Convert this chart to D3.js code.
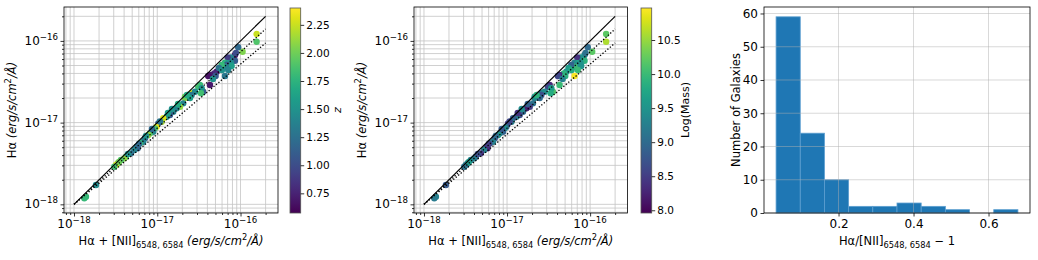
<!DOCTYPE html>
<html>
<head>
<meta charset="utf-8">
<script src="https://cdn.jsdelivr.net/npm/d3@7"></script>
<style>
  body { margin: 0; background: #fff; }
  text { font-family: "DejaVu Sans", sans-serif; fill: #000; }
</style>
</head>
<body>
<div id="viz-container"></div>
<script>
let vizWidth = 1038;
let vizHeight = 260;

// data (log10 of fluxes, erg/s/cm2/A)
let logTotal = [-15.807, -15.807, -15.975, -16.028, -16.067, -16.115, -16.155, -16.088, -16.187, -16.148,
  -16.067, -16.115, -16.167, -16.107, -16.187, -16.227, -16.187, -16.148, -16.287, -16.316,
  -16.367, -16.299, -16.367, -16.487, -16.508, -16.448, -16.467, -16.587, -16.628, -16.667,
  -16.475, -16.547, -16.587, -16.667, -16.688, -16.727, -16.767, -16.808, -16.848, -16.887,
  -16.928, -16.947, -16.988, -17.007, -17.028, -17.048, -17.088, -17.108, -17.148, -17.168,
  -17.208, -17.247, -17.235, -17.276, -17.316, -17.376, -17.396, -17.436, -17.475, -17.496,
  -17.516, -17.736, -17.856, -17.876, -16.388, -16.331, -16.607, -16.751, -16.872, -16.968,
  -17.064, -17.136, -17.220, -17.352, -17.460, -16.824, -16.643, -16.259, -16.223, -16.055];
let logHa = [-15.916, -16.010, -16.132, -16.078, -16.173, -16.201, -16.201, -16.234, -16.267, -16.274,
  -16.242, -16.267, -16.295, -16.307, -16.316, -16.295, -16.430, -16.356, -16.377, -16.397,
  -16.417, -16.430, -16.540, -16.540, -16.561, -16.622, -16.580, -16.641, -16.662, -16.699,
  -16.641, -16.622, -16.662, -16.683, -16.764, -16.805, -16.825, -16.867, -16.907, -16.928,
  -16.947, -16.989, -17.009, -17.050, -17.070, -17.111, -17.131, -17.152, -17.192, -17.234,
  -17.253, -17.295, -17.315, -17.335, -17.376, -17.417, -17.437, -17.458, -17.498, -17.519,
  -17.540, -17.764, -17.907, -17.927, -16.430, -16.466, -16.699, -16.772, -16.882, -16.985,
  -17.078, -17.164, -17.262, -17.384, -17.482, -16.834, -16.662, -16.332, -16.356, -16.148];
let zVals = [2.25, 1.90, 2.05, 1.20, 0.70, 1.40, 0.90, 1.30, 1.75, 1.50,
  1.10, 1.45, 1.10, 1.60, 1.40, 1.80, 1.30, 1.40, 0.70, 0.80,
  0.70, 1.10, 0.70, 1.80, 1.85, 1.10, 1.50, 2.30, 1.40, 2.10,
  1.85, 1.45, 1.30, 2.00, 1.40, 2.10, 1.40, 1.35, 1.10, 1.50,
  2.30, 2.15, 1.10, 2.35, 1.90, 1.40, 1.85, 2.10, 1.10, 1.40,
  1.80, 1.35, 1.15, 1.40, 1.25, 1.85, 2.10, 1.90, 2.10, 2.30,
  1.85, 1.45, 1.80, 1.80, 0.65, 1.50, 1.60, 1.70, 1.60, 1.30,
  1.20, 1.50, 1.20, 1.50, 2.00, 1.50, 1.70, 1.25, 1.50, 1.00];
let massVals = [10.2, 10.6, 10.2, 9.0, 9.4, 9.5, 8.4, 9.5, 9.3, 9.7,
  9.9, 9.5, 9.4, 9.5, 10.0, 8.9, 10.95, 10.0, 9.5, 9.9,
  8.3, 9.9, 10.0, 8.3, 8.6, 10.1, 9.6, 9.2, 8.2, 9.3,
  9.8, 9.4, 8.7, 9.5, 9.1, 8.5, 8.2, 9.0, 8.7, 9.2,
  8.8, 9.3, 8.5, 9.0, 9.5, 8.9, 9.2, 9.6, 8.7, 9.3,
  9.0, 8.6, 8.3, 9.3, 8.4, 8.9, 9.2, 9.3, 9.4, 9.2,
  9.1, 8.8, 9.3, 9.2, 8.6, 9.3, 9.0, 8.9, 8.4, 8.6,
  8.8, 9.0, 8.5, 8.7, 9.6, 9.4, 9.9, 9.6, 9.8, 9.1];

// reference lines: [log x, log y] end points
let lineOne = [[-18, -18], [-15.699, -15.699]];
let lineUpper = [[-18, -18], [-15.699, -15.854]];
let lineLower = [[-18, -18], [-15.699, -16.026]];

let decadeTicks = [-18, -17, -16];
let zTicks = [0.75, 1.00, 1.25, 1.50, 1.75, 2.00, 2.25];
let massTicks = [8.0, 8.5, 9.0, 9.5, 10.0, 10.5];

let histEdges = [0.0334, 0.0979, 0.1624, 0.2269, 0.2914, 0.3559, 0.4204, 0.4849, 0.5494, 0.6139, 0.6784];
let histCounts = [59, 24, 10, 2, 2, 3, 2, 1, 0, 1];
let histXTicks = [0.2, 0.4, 0.6];
let histYTicks = [0, 10, 20, 30, 40, 50, 60];

let viz = d3.select("#viz-container")
  .append("svg")
    .attr("width", vizWidth)
    .attr("height", vizHeight)
    .style("background-color", "white");

let gridColor = "#c4c4c4";
let axTop = 7, axBottom = 213;

function subLabel(sel, parts) {
  // parts: [text, kind] kind: "n" normal, "i" italic, "sub", "sup"
  let shift = 0;
  parts.forEach(function(p) {
    let t = sel.append("tspan").text(p[0]);
    let want = p[1] == "sub" ? 3 : (p[1] == "sup" ? -5 : 0);
    t.attr("dy", want - shift);
    shift = want;
    if (p[1] == "sub" || p[1] == "sup") t.attr("font-size", "0.72em");
    if (p[1] == "i") t.attr("font-style", "italic");
  });
}

function scatterPanel(left, right, colorVals, cDomain, cTicks, cbLeft, cbLabel, cbLabelX, cbItalic, cbFmt) {
  let g = viz.append("g");
  let x = d3.scaleLog().domain([Math.pow(10, -18.12), Math.pow(10, -15.55)]).range([left, right]);
  let y = d3.scaleLog().domain([Math.pow(10, -18.106), Math.pow(10, -15.585)]).range([axBottom, axTop]);

  let major = decadeTicks.map(d => Math.pow(10, d));
  let minor = [];
  [-19, -18, -17, -16].forEach(function(d) {
    for (let k = 2; k <= 9; k++) minor.push(k * Math.pow(10, d));
  });
  let xMinor = minor.filter(v => v > x.domain()[0] && v < x.domain()[1]);
  let yMinor = minor.filter(v => v > y.domain()[0] && v < y.domain()[1]);

  // grid, both major and minor
  g.selectAll(".vg").data(major.concat(xMinor)).enter().append("line")
    .attr("x1", d => x(d)).attr("x2", d => x(d))
    .attr("y1", axTop).attr("y2", axBottom)
    .attr("stroke", gridColor).attr("stroke-width", 0.8);
  g.selectAll(".hg").data(major.concat(yMinor)).enter().append("line")
    .attr("x1", left).attr("x2", right)
    .attr("y1", d => y(d)).attr("y2", d => y(d))
    .attr("stroke", gridColor).attr("stroke-width", 0.8);

  let color = d3.scaleSequential(d3.interpolateViridis).domain(cDomain);

  g.selectAll("circle").data(logTotal).enter().append("circle")
    .attr("cx", d => x(Math.pow(10, d)))
    .attr("cy", (d, i) => y(Math.pow(10, logHa[i])))
    .attr("r", 3.2)
    .attr("fill", (d, i) => color(colorVals[i]));

  let line = d3.line().x(d => x(Math.pow(10, d[0]))).y(d => y(Math.pow(10, d[1])));
  g.append("path").attr("d", line(lineOne)).attr("stroke", "black").attr("stroke-width", 1.2).attr("fill", "none");
  [lineUpper, lineLower].forEach(function(l) {
    g.append("path").attr("d", line(l)).attr("stroke", "black").attr("stroke-width", 1.3)
      .attr("stroke-dasharray", "1.3,1.9").attr("fill", "none");
  });

  // axes
  g.append("g").attr("transform", "translate(0," + axBottom + ")")
    .call(d3.axisBottom(x).tickValues(major).tickSize(3.5).tickFormat(""));
  g.append("g").attr("transform", "translate(0," + axBottom + ")")
    .call(d3.axisBottom(x).tickValues(xMinor).tickSize(2).tickFormat(""));
  g.append("g").attr("transform", "translate(" + left + ",0)")
    .call(d3.axisLeft(y).tickValues(major).tickSize(3.5).tickFormat(""));
  g.append("g").attr("transform", "translate(" + left + ",0)")
    .call(d3.axisLeft(y).tickValues(yMinor).tickSize(2).tickFormat(""));
  g.selectAll(".domain").remove();
  g.selectAll(".tick line").attr("stroke", "#000").attr("stroke-width", 0.8);

  g.append("rect").attr("x", left).attr("y", axTop).attr("width", right - left).attr("height", axBottom - axTop)
    .attr("fill", "none").attr("stroke", "#000").attr("stroke-width", 0.8);

  decadeTicks.forEach(function(d) {
    let t = g.append("text").attr("x", x(Math.pow(10, d))).attr("y", 228)
      .attr("text-anchor", "middle").attr("font-size", 12);
    subLabel(t, [["10", "n"], ["\u2212" + (-d), "sup"]]);
    let ty = g.append("text").attr("x", left - 6).attr("y", y(Math.pow(10, d)) + 4)
      .attr("text-anchor", "end").attr("font-size", 12);
    subLabel(ty, [["10", "n"], ["\u2212" + (-d), "sup"]]);
  });

  let xl = g.append("text").attr("x", (left + right) / 2).attr("y", 245)
    .attr("text-anchor", "middle").attr("font-size", 11.5);
  subLabel(xl, [["H\u03b1 + [NII]", "n"], ["6548, 6584", "sub"], [" (erg/s/cm", "i"], ["2", "sup"], ["/\u00c5)", "i"]]);

  let yl = g.append("text").attr("transform", "translate(" + (left - 48) + "," + ((axTop + axBottom) / 2) + ") rotate(-90)")
    .attr("text-anchor", "middle").attr("font-size", 11.5);
  subLabel(yl, [["H\u03b1 ", "n"], ["(erg/s/cm", "i"], ["2", "sup"], ["/\u00c5)", "i"]]);

  // colorbar
  let cbW = 10.7;
  let gradId = "grad" + cbLeft;
  let grad = viz.append("defs").append("linearGradient").attr("id", gradId)
    .attr("x1", 0).attr("y1", 1).attr("x2", 0).attr("y2", 0);
  d3.range(0, 1.0001, 0.05).forEach(function(t) {
    grad.append("stop").attr("offset", t).attr("stop-color", d3.interpolateViridis(t));
  });
  let cy = d3.scaleLinear().domain(cDomain).range([axBottom, axTop + 1]);
  g.append("rect").attr("x", cbLeft).attr("y", axTop + 1).attr("width", cbW).attr("height", axBottom - axTop - 1)
    .attr("fill", "url(#" + gradId + ")").attr("stroke", "#555").attr("stroke-width", 0.8);
  let cAxis = g.append("g").attr("transform", "translate(" + (cbLeft + cbW) + ",0)")
    .call(d3.axisRight(cy).tickValues(cTicks).tickSize(3.5).tickFormat(cbFmt));
  cAxis.select(".domain").remove();
  cAxis.selectAll(".tick line").attr("stroke", "#000").attr("stroke-width", 0.8);
  cAxis.selectAll(".tick text").attr("font-size", 10.5).attr("x", 5.5)
    .attr("font-family", "DejaVu Sans").attr("fill", "#000");

  g.append("text").attr("transform", "translate(" + cbLabelX + "," + ((axTop + axBottom) / 2) + ") rotate(-90)")
    .attr("text-anchor", "middle").attr("font-size", 11)
    .attr("font-style", cbItalic ? "italic" : "normal")
    .text(cbLabel);
}

scatterPanel(64, 278, zVals, [0.575, 2.40], zTicks, 290, "z", 341, true, d3.format(".2f"));
scatterPanel(414, 627.5, massVals, [7.96, 10.97], massTicks, 641, "Log(Mass)", 689, false, d3.format(".1f"));

// histogram
let hLeft = 764, hRight = 1030;
let hg = viz.append("g");
let hx = d3.scaleLinear().domain([0.0012, 0.7106]).range([hLeft, hRight]);
let hy = d3.scaleLinear().domain([0, 61.95]).range([axBottom, axTop]);

hg.selectAll(".bar").data(histCounts).enter().append("rect")
  .attr("x", (d, i) => hx(histEdges[i]))
  .attr("width", (d, i) => hx(histEdges[i + 1]) - hx(histEdges[i]))
  .attr("y", d => hy(d))
  .attr("height", d => axBottom - hy(d))
  .attr("fill", "#1f77b4")
  .attr("stroke", "#5d9fd0").attr("stroke-width", 0.8)
  .attr("opacity", d => d > 0 ? 1 : 0);

hg.selectAll(".hvg").data(histXTicks).enter().append("line")
  .attr("x1", d => hx(d)).attr("x2", d => hx(d)).attr("y1", axTop).attr("y2", axBottom)
  .attr("stroke", "#b0b0b0").attr("stroke-width", 0.8).attr("opacity", 0.6);
hg.selectAll(".hhg").data(histYTicks).enter().append("line")
  .attr("x1", hLeft).attr("x2", hRight).attr("y1", d => hy(d)).attr("y2", d => hy(d))
  .attr("stroke", "#b0b0b0").attr("stroke-width", 0.8).attr("opacity", 0.6);

let hxa = hg.append("g").attr("transform", "translate(0," + axBottom + ")")
  .call(d3.axisBottom(hx).tickValues(histXTicks).tickSize(3.5).tickFormat(d3.format(".1f")));
let hya = hg.append("g").attr("transform", "translate(" + hLeft + ",0)")
  .call(d3.axisLeft(hy).tickValues(histYTicks).tickSize(3.5).tickFormat(d3.format("d")));
[hxa, hya].forEach(function(a) {
  a.select(".domain").remove();
  a.selectAll(".tick line").attr("stroke", "#000").attr("stroke-width", 0.8);
  a.selectAll(".tick text").attr("font-size", 12).attr("font-family", "DejaVu Sans").attr("fill", "#000");
});
hxa.selectAll(".tick text").attr("y", 6);
hya.selectAll(".tick text").attr("x", -6);

hg.append("rect").attr("x", hLeft).attr("y", axTop).attr("width", hRight - hLeft).attr("height", axBottom - axTop)
  .attr("fill", "none").attr("stroke", "#000").attr("stroke-width", 0.8);

let hxl = hg.append("text").attr("x", (hLeft + hRight) / 2).attr("y", 245)
  .attr("text-anchor", "middle").attr("font-size", 11.5);
subLabel(hxl, [["H\u03b1/[NII]", "n"], ["6548, 6584", "sub"], [" \u2212 1", "n"]]);

hg.append("text").attr("transform", "translate(" + 740 + "," + ((axTop + axBottom) / 2) + ") rotate(-90)")
  .attr("text-anchor", "middle").attr("font-size", 11.5)
  .text("Number of Galaxies");
</script>
</body>
</html>
